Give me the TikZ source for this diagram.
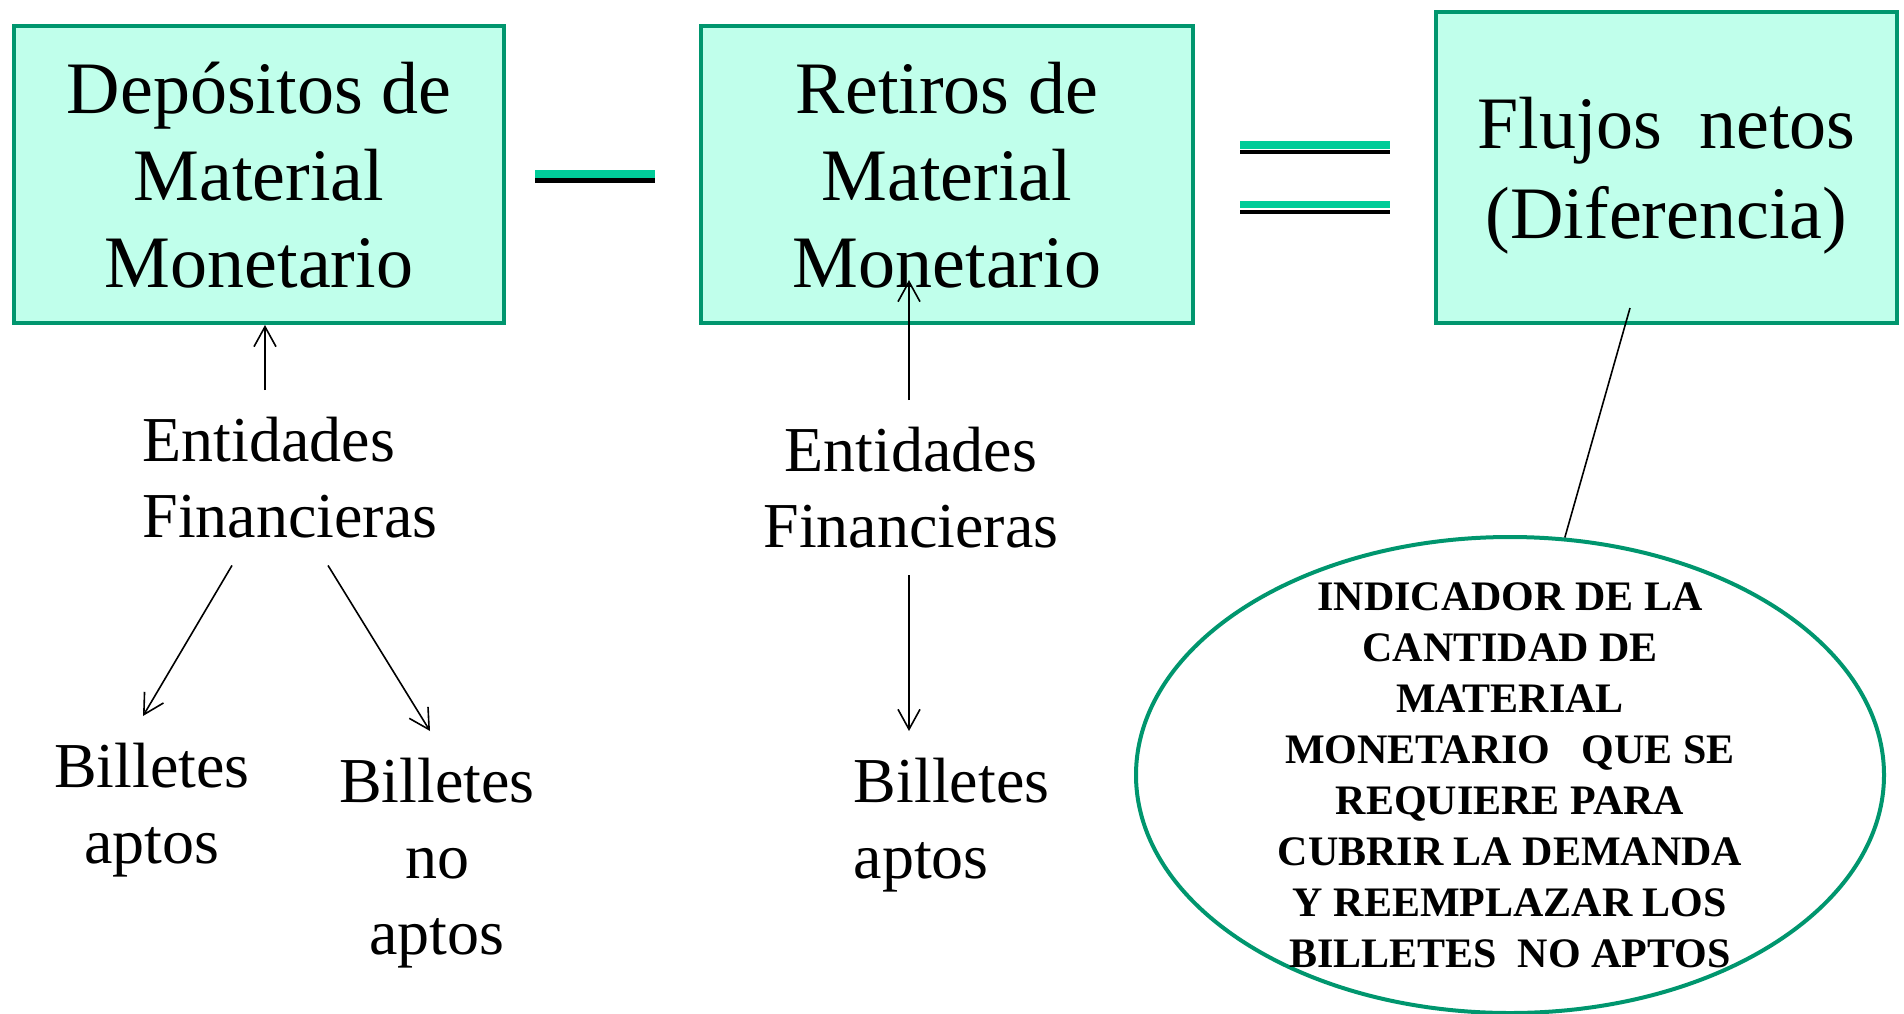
\documentclass[tikz,border=0pt]{standalone}
\usepackage{fontspec}
\setmainfont{Liberation Serif}
\usetikzlibrary{arrows.meta, shapes.geometric}

\definecolor{kantgronn}{RGB}{0,150,110}
\definecolor{mint}{RGB}{192,255,235}
\definecolor{strekgronn}{RGB}{0,204,153}

\begin{document}
\begin{tikzpicture}[
    x = 1pt, y = -1pt,
    kasse/.style = {rectangle, draw=kantgronn, fill=mint, line width=4pt,
                    inner sep=0pt, align=center, text depth=0pt,
                    font=\fontsize{74}{87}\selectfont},
    tekst/.style = {inner xsep=0pt, inner ysep=27pt, anchor=north,
                    font=\fontsize{64}{76}\selectfont},
    sky/.style = {ellipse, draw=kantgronn, line width=4pt, inner xsep=0pt,
                  inner ysep=-30pt, align=center,
                  font=\fontsize{42}{51}\selectfont\bfseries},
    pil/.style = {black, line width=1.6pt, -{Straight Barb[length=20pt, width=22pt]}},
    strek/.style = {black, line width=1.6pt}
    ]
  \useasboundingbox (0,0) rectangle (1904,1013);

  \node[kasse, minimum width=490pt, minimum height=297pt] (dep) at (259,174.5)
    {Depósitos de\\Material\\Monetario} ;
  \node[kasse, minimum width=492pt, minimum height=297pt] (ret) at (947,174.5)
    {Retiros de\\Material\\Monetario} ;
  \node[kasse, minimum width=461pt, minimum height=311pt,
        font=\fontsize{74}{90}\selectfont] (flu) at (1666.5,167.5)
    {Flujos\ \ netos\\(Diferencia)} ;

  % menos / igual
  \fill[strekgronn] (535,170) rectangle (655,178);
  \fill[black] (535,178) rectangle (655,183);
  \fill[strekgronn] (1240,141) rectangle (1390,149);
  \fill[black] (1240,150) rectangle (1390,154);
  \fill[strekgronn] (1240,201) rectangle (1390,208);
  \fill[black] (1240,210) rectangle (1390,214);

  \node[tekst, align=left] (ent1) at (290,390) {Entidades\\Financieras} ;
  \node[tekst, align=center] (apt1) at (152,716) {Billetes\\aptos} ;
  \node[tekst, align=center] (noapt) at (437,731) {Billetes\\no\\aptos} ;

  \node[tekst, align=center] (ent2) at (911,400) {Entidades\\Financieras} ;
  \node[tekst, align=left] (apt2) at (951.5,731) {Billetes\\aptos} ;

  \node[sky, minimum width=748pt, minimum height=476pt] (ind) at (1510,775)
    {INDICADOR DE LA\\CANTIDAD DE\\MATERIAL\\MONETARIO\ \ \ QUE SE\\REQUIERE PARA\\%
     CUBRIR LA DEMANDA\\Y REEMPLAZAR LOS\\BILLETES\ \ NO APTOS} ;

  \draw[pil] ([xshift=-25pt]ent1.north) -- ([xshift=6pt]dep.south);
  \draw[pil] ([xshift=-58pt]ent1.south) -- ([xshift=-9pt]apt1.north);
  \draw[pil] ([xshift=38pt]ent1.south) -- ([xshift=-7pt]noapt.north);

  \draw[pil] ([xshift=-2pt]ent2.north) -- ([xshift=-38pt, yshift=45pt]ret.south);
  \draw[pil] ([xshift=-2pt]ent2.south) -- ([xshift=-42.5pt]apt2.north);

  \draw[strek] ([xshift=-36.5pt, yshift=17pt]flu.south) -- (ind.77);
\end{tikzpicture}
\end{document}
